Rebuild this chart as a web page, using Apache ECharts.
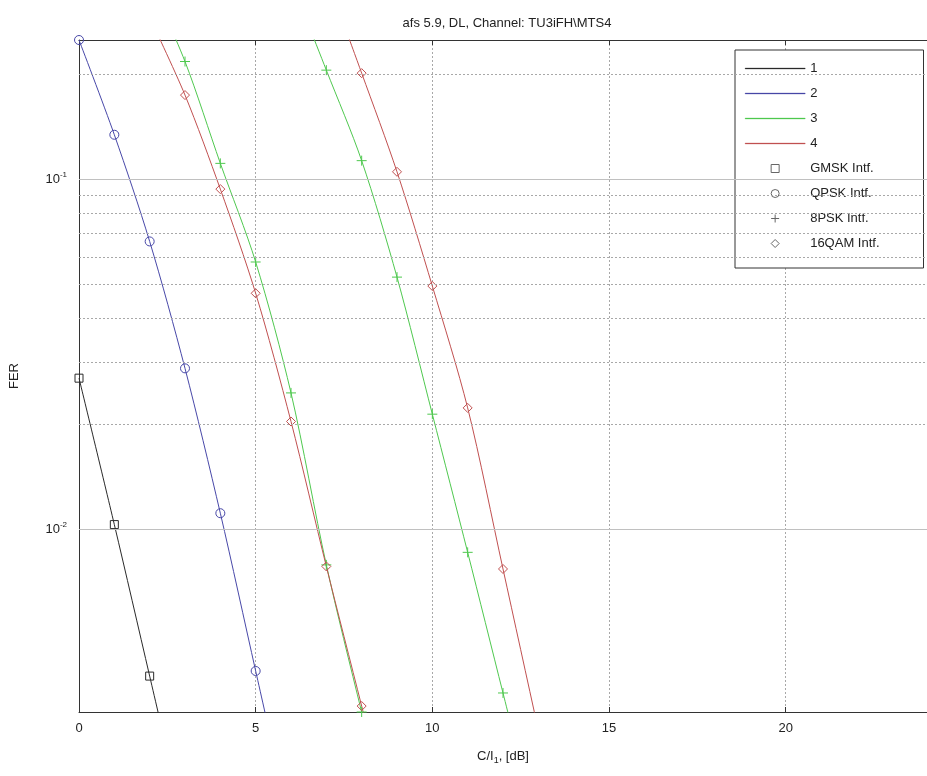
<!DOCTYPE html>
<html><head><meta charset="utf-8">
<script src="https://cdn.jsdelivr.net/npm/echarts@6/dist/echarts.min.js"></script>
<style>html,body{margin:0;padding:0;background:#fff}#c{width:927px;height:776px}</style>
</head><body><div id="c"></div>
<script>
// ---- data ----
const titleText = 'afs 5.9, DL, Channel: TU3iFH\\MTS4';
const xTicks = [0, 5, 10, 15, 20];
const yDecades = [0.01, 0.1];
const yMinorGrid = [0.2, 0.09, 0.08, 0.07, 0.06, 0.05, 0.04, 0.03, 0.02,
                    0.009, 0.008, 0.007, 0.006, 0.005, 0.004];
const lineNames = ['1', '2', '3', '4'];
const markerNames = ['GMSK Intf.', 'QPSK Intf.', '8PSK Intf.', '16QAM Intf.'];

const s1X = [0, 1, 2, 3];
const s1Y = [0.027, 0.0103, 0.0038, 0.0014];
const s2X = [0, 1, 2, 3, 4, 5, 6];
const s2Y = [0.25, 0.134, 0.0664, 0.0288, 0.0111, 0.00393, 0.0014];
const s3aX = [2, 3, 4, 5, 6, 7, 8, 9];
const s3aY = [0.37, 0.217, 0.111, 0.058, 0.0245, 0.0079, 0.0030, 0.0012];
const s4aX = [2, 3, 4, 5, 6, 7, 8, 9];
const s4aY = [0.29, 0.174, 0.0937, 0.0472, 0.0203, 0.00782, 0.00312, 0.00124];
const s3bX = [6, 7, 8, 9, 10, 11, 12, 13];
const s3bY = [0.37, 0.205, 0.113, 0.0525, 0.0213, 0.00858, 0.0034, 0.00135];
const s4bX = [7, 8, 9, 10, 11, 12, 13, 14];
const s4bY = [0.38, 0.201, 0.105, 0.0495, 0.0222, 0.00769, 0.00266, 0.00092];

// ---- styling ----
const FONT = 'Liberation Sans, Arial, Helvetica, sans-serif';
const colors = ['#2a2a2a', '#4848a8', '#4fc84f', '#c05050'];
const markerGray = '#666';
const PLUS = 'path://M5,0L5,10M0,5L10,5';
const SQUARE = 'path://M0,0H10V10H0Z';
const DIAMOND = 'path://M5,0L10,5L5,10L0,5Z';
const LINE_ICON = 'path://M0,0H60V1H0Z';
const symbols = ['rect', 'circle', PLUS, 'diamond'];
const legendSymbols = [SQUARE, 'circle', PLUS, DIAMOND];

const zip = (xs, ys) => xs.map((x, i) => [x, ys[i]]);

function dataSeries(xs, ys, ci, si) {
  return {
    type: 'line', data: zip(xs, ys), smooth: 0.3,
    symbol: symbols[si], symbolSize: si === 2 ? 10 : (si === 0 ? 8 : 9),
    lineStyle: { color: colors[ci], width: 1 },
    itemStyle: { color: 'rgba(0,0,0,0)', borderColor: colors[ci], borderWidth: 1 },
    z: 3, silent: true, animation: false, clip: true
  };
}

const series = [
  {
    type: 'line', data: [], z: 1, silent: true, animation: false,
    markLine: {
      silent: true, symbol: 'none', label: { show: false },
      data: yMinorGrid.map(v => ({ yAxis: v, lineStyle: { type: [2, 2], color: '#a8a8a8', width: 1 } }))
        .concat(yDecades.map(v => ({ yAxis: v, lineStyle: { type: 'solid', color: '#c0c0c0', width: 1 } })))
    }
  },
  dataSeries(s1X, s1Y, 0, 0),
  dataSeries(s2X, s2Y, 1, 1),
  dataSeries(s3aX, s3aY, 2, 2),
  dataSeries(s4aX, s4aY, 3, 3),
  dataSeries(s3bX, s3bY, 2, 2),
  dataSeries(s4bX, s4bY, 3, 3)
];
lineNames.forEach((n, i) => series.push({
  type: 'line', name: n, data: [], symbol: 'none', color: colors[i],
  lineStyle: { color: colors[i], width: 1 },
  itemStyle: { color: colors[i], borderColor: colors[i] }
}));
markerNames.forEach((n, i) => series.push({
  type: 'line', name: n, data: [], symbol: symbols[i], color: markerGray,
  lineStyle: { opacity: 0, width: 0 },
  itemStyle: { color: 'rgba(0,0,0,0)', borderColor: markerGray, borderWidth: 1 }
}));

const legendData = lineNames.map((n, i) => ({
  name: n, icon: LINE_ICON,
  itemStyle: { color: colors[i], borderColor: colors[i], borderWidth: 0.3 }
})).concat(markerNames.map((n, i) => ({
  name: n, icon: legendSymbols[i],
  itemStyle: { color: 'rgba(0,0,0,0)', borderColor: markerGray, borderWidth: 1 }
})));

const axisLineStyle = { color: '#333', width: 1 };

const option = {
  backgroundColor: '#fff',
  animation: false,
  textStyle: { fontFamily: FONT },
  title: {
    text: titleText, left: 502, top: 12, textAlign: 'center',
    textStyle: { fontSize: 13, fontWeight: 'normal', color: '#222', fontFamily: FONT }
  },
  legend: {
    data: legendData,
    orient: 'vertical', left: 735, top: 50,
    itemWidth: 60, itemHeight: 8, itemGap: 12,
    symbolKeepAspect: true,
    padding: [12, 44, 18, 10],
    borderColor: '#333', borderWidth: 1, backgroundColor: '#fff',
    textStyle: { fontSize: 13, color: '#222', fontFamily: FONT },
    selectedMode: false
  },
  grid: { left: 79, right: 0, top: 40, bottom: 64, containLabel: false },
  xAxis: [{
    type: 'value', min: 0, max: 24, interval: 5,
    name: '{a|C/I}{s|1}{a|, [dB]}', nameLocation: 'middle', nameGap: 36,
    nameTextStyle: {
      rich: {
        a: { fontSize: 13, color: '#222', fontFamily: FONT },
        s: { fontSize: 9, color: '#222', fontFamily: FONT, padding: [8, 0, 0, 0] }
      }
    },
    axisLine: { show: true, lineStyle: axisLineStyle },
    axisTick: { show: true, inside: true, length: 5, lineStyle: axisLineStyle, customValues: xTicks },
    axisLabel: {
      fontSize: 13, color: '#222', margin: 10, fontFamily: FONT, customValues: xTicks,
      formatter: v => String(v)
    },
    splitLine: { show: true, lineStyle: { type: [2, 2], color: '#a8a8a8' } }
  }, {
    type: 'value', min: 0, max: 24, interval: 5, position: 'top',
    axisLine: { show: true, onZero: false, lineStyle: axisLineStyle },
    axisTick: { show: true, inside: true, length: 5, lineStyle: axisLineStyle, customValues: xTicks },
    axisLabel: { show: false }, splitLine: { show: false }
  }],
  yAxis: [{
    type: 'log', logBase: 10, min: 0.003, max: 0.25,
    name: 'FER', nameLocation: 'middle', nameGap: 58, nameRotate: 90,
    nameTextStyle: { fontSize: 13, color: '#222', fontFamily: FONT },
    axisLine: { show: true, lineStyle: axisLineStyle },
    axisTick: { show: true, inside: true, length: 5, lineStyle: axisLineStyle, customValues: yDecades },
    axisLabel: {
      margin: 12, color: '#222', fontFamily: FONT, customValues: yDecades,
      formatter: v => '{b|10}{s|' + Math.round(Math.log10(v)) + '}',
      rich: {
        b: { fontSize: 13, color: '#222', fontFamily: FONT },
        s: { fontSize: 8, color: '#222', fontFamily: FONT, padding: [0, 0, 9, 0] }
      }
    },
    splitLine: { show: false }
  }],
  series: series
};

const chart = echarts.init(document.getElementById('c'), null, { renderer: 'canvas' });
chart.setOption(option);
</script>
</body></html>
